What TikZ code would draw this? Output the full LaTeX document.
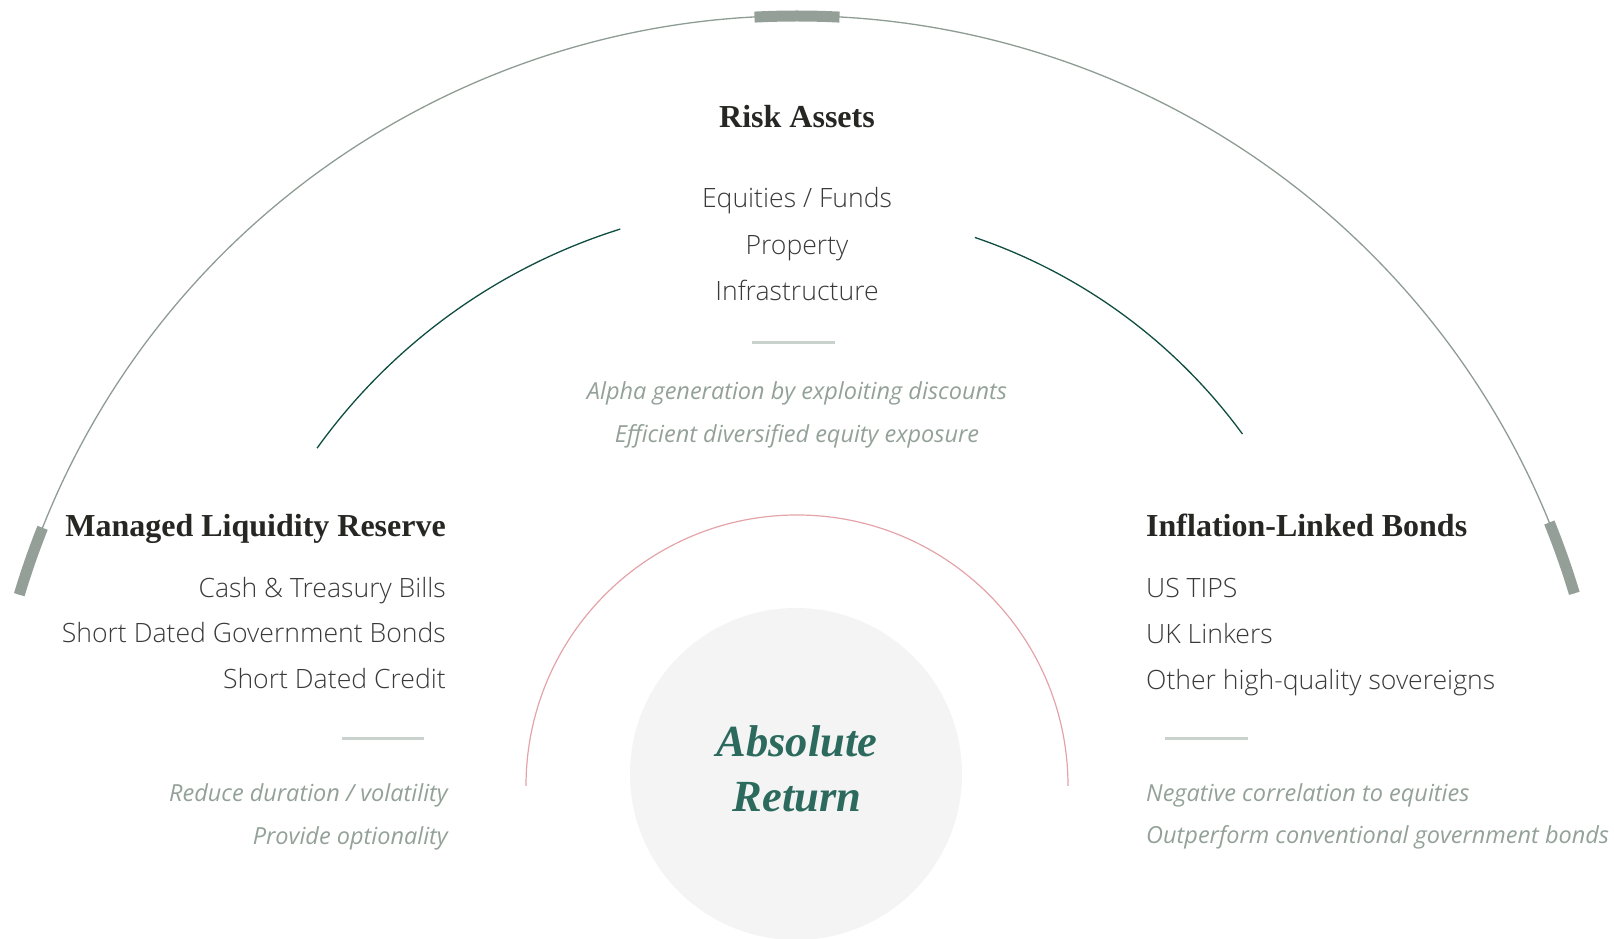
\documentclass[tikz,border=0pt]{standalone}
\usepackage{fontspec}
\setmainfont{Open Sans}[UprightFont=* Light, ItalicFont=* Italic]
\newfontfamily\headfont{Liberation Serif}
\definecolor{ringgray}{HTML}{8E9C93}
\definecolor{capgray}{HTML}{939F97}
\definecolor{arcgreen}{HTML}{0E4D40}
\definecolor{arcpink}{HTML}{E3A3A8}
\definecolor{discgray}{HTML}{F4F4F4}
\definecolor{headtext}{HTML}{262622}
\definecolor{bodytext}{HTML}{3A3A3A}
\definecolor{notetext}{HTML}{93A198}
\definecolor{rulegray}{HTML}{C9D2CC}
\definecolor{returngreen}{HTML}{2B6A5D}
\tikzset{
  heading/.style={font=\headfont\bfseries\fontsize{32}{37}\selectfont, text=headtext, inner sep=0pt},
  item/.style={font=\fontsize{26.6}{31}\selectfont, text=bodytext, inner sep=0pt},
  note/.style={font=\itshape\fontsize{23.5}{28}\selectfont, text=notetext, inner sep=0pt},
  returntext/.style={font=\headfont\bfseries\itshape\fontsize{44.5}{50}\selectfont, text=returngreen, inner sep=0pt},
  shortrule/.style={rulegray, line width=3pt},
  ringcap/.style={capgray, line width=11pt},
}

\begin{document}
\begin{tikzpicture}[x=1pt, y=1pt]
  \useasboundingbox (0,0) rectangle (1614,939);
  \coordinate (ring) at (797,111);
  \coordinate (leftarc) at (797,146);
  \coordinate (rightarc) at (797,179);
  \coordinate (inner) at (797,153);

  \draw[ringgray, line width=1.3pt] ([shift={(163.3:812)}]ring) arc[start angle=163.3, end angle=16.8, radius=812];
  \draw[ringcap] ([shift={(158.3:812)}]ring) arc[start angle=158.3, end angle=163.3, radius=812];
  \draw[ringcap] ([shift={(87:812)}]ring) arc[start angle=87, end angle=93, radius=812];
  \draw[ringcap] ([shift={(16.8:812)}]ring) arc[start angle=16.8, end angle=22.1, radius=812];

  \draw[arcgreen, line width=1.3pt] ([shift={(144.3:591)}]leftarc) arc[start angle=144.3, end angle=107.4, radius=591];
  \draw[arcgreen, line width=1.3pt] ([shift={(71.2:552)}]rightarc) arc[start angle=71.2, end angle=36.2, radius=552];
  \draw[arcpink, line width=1.2pt] ([shift={(0:271)}]inner) arc[start angle=0, end angle=180, radius=271];

  \node[circle, fill=discgray, minimum size=332pt, inner sep=0pt] (disc) at (796,165) {};
  \node[returntext, anchor=base] (absolute) at (797,182) {Absolute};
  \node[returntext, anchor=base] (return) at (797,127) {Return};

  \node[heading, anchor=base] (risk) at (797,811) {Risk Assets};
  \node[item, anchor=base] (equities) at (797,731) {Equities / Funds};
  \node[item, anchor=base] (property) at (797,684) {Property};
  \node[item, anchor=base] (infra) at (797,638) {Infrastructure};
  \draw[shortrule] (752,596) -- (835,596);
  \node[note, anchor=base] (alpha) at (797,539) {Alpha generation by exploiting discounts};
  \node[note, anchor=base] (efficient) at (797,496) {Efficient diversified equity exposure};

  \node[heading, anchor=base east] (liquidity) at (446,402) {Managed Liquidity Reserve};
  \node[item, anchor=base east] (cash) at (446,341) {Cash \& Treasury Bills};
  \node[item, anchor=base east] (govbonds) at (446,296) {Short Dated Government Bonds};
  \node[item, anchor=base east] (credit) at (446,250) {Short Dated Credit};
  \draw[shortrule] (342,200) -- (424,200);
  \node[note, anchor=base east] (duration) at (448,137) {Reduce duration / volatility};
  \node[note, anchor=base east] (optionality) at (448,94) {Provide optionality};

  \node[heading, anchor=base west] (inflation) at (1146,402) {Inflation-Linked Bonds};
  \node[item, anchor=base west] (tips) at (1146,341) {US TIPS};
  \node[item, anchor=base west] (linkers) at (1146,295) {UK Linkers};
  \node[item, anchor=base west] (sovereigns) at (1146,249) {Other high-quality sovereigns};
  \draw[shortrule] (1165,200) -- (1248,200);
  \node[note, anchor=base west] (negative) at (1146,137) {Negative correlation to equities};
  \node[note, anchor=base west] (outperform) at (1146,95) {Outperform conventional government bonds};
\end{tikzpicture}
\end{document}
